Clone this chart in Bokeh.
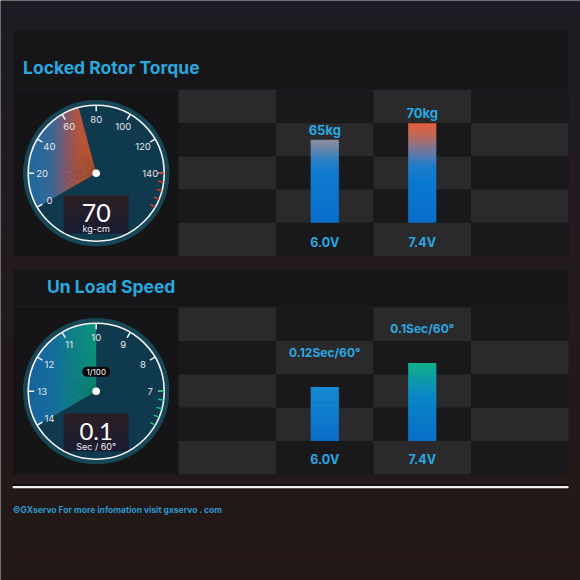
import numpy as np
from bokeh.plotting import figure
from bokeh.models import Range1d
from bokeh.embed import file_html
from bokeh.resources import INLINE
from bokeh.core.properties import value

# ---------------- data ----------------
voltages = ["6.0V", "7.4V"]
torque_kg = [65, 70]
torque_labels = ["65kg", "70kg"]
speed_hundredths = [12, 10]          # sec / 60deg, in 1/100 s
speed_labels = ["0.12Sec/60°", "0.1Sec/60°"]

torque_title = "Locked Rotor Torque"
speed_title = "Un Load Speed"

torque_dial_ticks = [0, 20, 40, 60, 80, 100, 120, 140]
torque_dial_red_ticks = [140, 145, 150, 155, 160]
torque_dial_min_max = [0, 160]
torque_dial_value = 70
torque_readout = "70"
torque_unit = "kg-cm"

speed_dial_ticks = [14, 13, 12, 11, 10, 9, 8, 7]
speed_dial_green_ticks = [7, 6.75, 6.5, 6.25, 6]
speed_dial_min_max = [14, 6]
speed_dial_value = 10
speed_readout = "0.1"
speed_unit = "Sec / 60°"
speed_scale_label = "1/100"

footer = "©GXservo For more infomation visit gxservo . com"

# ---------------- helpers ----------------
def hex2rgb(h):
    h = h.lstrip("#")
    return np.array([int(h[i:i + 2], 16) for i in (0, 2, 4)], float)

def lerp(stops, t):
    t = float(np.clip(t, 0, 1))
    for (p0, c0), (p1, c1) in zip(stops[:-1], stops[1:]):
        if t <= p1:
            f = 0 if p1 == p0 else (t - p0) / (p1 - p0)
            c = hex2rgb(c0) * (1 - f) + hex2rgb(c1) * f
            return "#%02x%02x%02x" % tuple(int(round(v)) for v in c)
    return stops[-1][1]

W = H = 580
p = figure(width=W, height=H, x_range=Range1d(0, W), y_range=Range1d(H, 0),
           x_axis_location=None, y_axis_location=None, toolbar_location=None,
           output_backend="svg", min_border=0)
p.outline_line_color = None
p.xgrid.visible = False
p.ygrid.visible = False
p.background_fill_color = "#201a1f"
p.border_fill_color = "#201a1f"

# ---- page background gradient ----
bg_stops = [(0, "#1d1b23"), (0.45, "#231a1f"), (1, "#231816")]
nb = 58
edges = np.linspace(0, H, nb + 1)
p.quad(left=0, right=W, top=edges[:-1], bottom=edges[1:] + 0.6,
       fill_color=[lerp(bg_stops, (e + H / nb / 2) / H) for e in edges[:-1]],
       line_color=None)

# ---- panels ----
PX0, PX1 = 12.5, 568
HEAD_BG = "#161619"
p.quad(left=PX0, right=PX1, top=[30, 269], bottom=[88.2, 305.9],
       fill_color=HEAD_BG, line_color=None)
p.quad(left=PX0, right=PX1, top=[89.5, 307.3], bottom=[255.5, 473.8],
       fill_color="#151517", line_color=None)

COLS = [178, 275.5, 373, 470.5, 568]
row_sets = [np.linspace(89.5, 255.5, 6), np.linspace(307.3, 473.8, 6)]
L, R_, T, B, C = [], [], [], [], []
for rows in row_sets:
    for ri in range(5):
        for ci in range(4):
            L.append(COLS[ci]); R_.append(COLS[ci + 1])
            T.append(rows[ri]); B.append(rows[ri + 1])
            C.append("#2a2a2d" if (ri + ci) % 2 == 0 else "#19191b")
p.quad(left=L, right=R_, top=T, bottom=B, fill_color=C, line_color=None)

# titles
TITLE_COLOR = "#2aa7de"
p.text(x=[22.5, 46.5], y=[67, 285.5], text=[torque_title, speed_title],
       text_font=value("Inter"), text_font_style="bold", text_font_size="17.5px",
       text_color=TITLE_COLOR, text_baseline="middle", text_align="left")

# ---- bar scales ----
COLW = 97.5
bar_center0 = (COLS[1] + COLS[2]) / 2
p.extra_x_ranges = {"bars": Range1d(start=-bar_center0 / COLW, end=(W - bar_center0) / COLW)}
T_BASE, T_PX, T_BASE_Y = 40, 3.32, 222.3
S_BASE, S_PX, S_BASE_Y = 16.5, 12.0, 440.5
p.extra_y_ranges = {
    "torque": Range1d(start=T_BASE - (H - T_BASE_Y) / T_PX, end=T_BASE + T_BASE_Y / T_PX),
    "speed": Range1d(start=S_BASE + (H - S_BASE_Y) / S_PX, end=S_BASE - S_BASE_Y / S_PX),
}
idx = list(range(len(voltages)))
BW = 28 / COLW

def gradient_bar(i, top, base, stops, yname, n=48):
    bots, tops, cols = [], [], []
    for j in range(n):
        f0, f1 = j / n, min((j + 1) / n + 0.012, 1.0)
        bots.append(base + (top - base) * f0)
        tops.append(base + (top - base) * f1)
        cols.append(lerp(stops, (j + 0.5) / n))
    p.vbar(x=[i] * n, width=BW, bottom=bots, top=tops, fill_color=cols,
           line_color=None, x_range_name="bars", y_range_name=yname)

torque_bar_stops = [
    [(0, "#0a6fcc"), (0.6, "#0e7ace"), (0.75, "#2a80c4"), (0.9, "#6a88aa"), (1, "#8e8e9e")],
    [(0, "#0a6ecb"), (0.4, "#0a78d0"), (0.57, "#1e7cc8"), (0.71, "#6a78a2"), (0.88, "#c06858"), (1, "#e2603a")],
]
speed_bar_stops = [
    [(0, "#0a6ec8"), (1, "#168ad2")],
    [(0, "#0a6ec8"), (0.56, "#0a86c6"), (0.81, "#0e9ca6"), (1, "#10b288")],
]
for i in idx:
    gradient_bar(i, torque_kg[i], T_BASE, torque_bar_stops[i], "torque")
    gradient_bar(i, speed_hundredths[i], S_BASE, speed_bar_stops[i], "speed")

LBL = "#2aa8e2"
p.text(x=idx, y=torque_kg, text=torque_labels, x_range_name="bars", y_range_name="torque",
       text_align="center", text_baseline="middle", y_offset=-10,
       text_font=value("Inter"), text_font_style="bold", text_font_size="13px", text_color=LBL)
p.text(x=idx, y=speed_hundredths, text=speed_labels, x_range_name="bars", y_range_name="speed",
       text_align="center", text_baseline="middle", y_offset=-34.5,
       text_font=value("Inter"), text_font_style="bold", text_font_size="12px", text_color=LBL)
p.text(x=idx + idx, y=[242] * 2 + [458.5] * 2, text=voltages + voltages, x_range_name="bars",
       text_align="center", text_baseline="middle",
       text_font=value("Inter"), text_font_style="bold", text_font_size="12.5px", text_color=LBL)

# ---- gauges ----
RF, RR = 68, 73
FACE, RING = "#0f3a4e", "#174656"

def dial_angle(v, mm):
    lo, hi = mm
    return np.radians(210 - 240 * (v - lo) / (hi - lo))

def gauge(cx, cy, mm, ticks, extra_ticks, extra_color, val, sector_stops,
          readout, unit, readout_size):
    p.circle(x=[cx], y=[cy], radius=RR, fill_color=RING, line_color=None)
    p.circle(x=[cx], y=[cy], radius=RF, fill_color=FACE, line_color=None)
    # sector with horizontal gradient
    a_end = dial_angle(mm[0], mm)
    a_start = dial_angle(val, mm)
    na, nr = 42, 16
    angs = np.linspace(a_start, a_end, na + 1)
    rads = np.linspace(0, RF, nr + 1)
    xs, ys, ir, orr, sa, ea, cols = [], [], [], [], [], [], []
    for k in range(na):
        for m in range(nr):
            am = (angs[k] + angs[k + 1]) / 2
            rm = (rads[m] + rads[m + 1]) / 2
            xc = cx + rm * np.cos(am)
            xs.append(cx); ys.append(cy)
            ir.append(rads[m]); orr.append(min(rads[m + 1] + 0.7, RF))
            sa.append(angs[k])
            ea.append(angs[k + 1] + (0.008 if k < na - 1 else 0))
            cols.append(lerp(sector_stops, (xc - (cx - RF)) / RF))
    p.annular_wedge(x=xs, y=ys, inner_radius=ir, outer_radius=orr, start_angle=sa,
                    end_angle=ea, direction="anticlock", fill_color=cols, line_color=None)
    # readout box
    nbx = 12
    e = np.linspace(cy + 22.3, cy + 59.8, nbx + 1)
    p.quad(left=cx - 32.5, right=cx + 32.5, top=e[:-1], bottom=e[1:] + 0.5,
           fill_color=[lerp([(0, "#2c1f25"), (1, "#1a1b33")], (j + 0.5) / nbx) for j in range(nbx)],
           line_color=None)
    p.annulus(x=[cx], y=[cy], inner_radius=RF, outer_radius=RR, fill_color=RING, line_color=None)
    p.circle(x=[cx], y=[cy], radius=RF, fill_color=None, line_color="#f4f4f4", line_width=1.6)
    # ticks
    a = dial_angle(np.array(ticks, float), mm)
    p.segment(x0=cx + RF * np.cos(a), y0=cy - RF * np.sin(a),
              x1=cx + (RF - 6) * np.cos(a), y1=cy - (RF - 6) * np.sin(a),
              line_color="#f4f4f4", line_width=1.5)
    a2 = dial_angle(np.array(extra_ticks, float), mm)
    p.segment(x0=cx + RF * np.cos(a2), y0=cy - RF * np.sin(a2),
              x1=cx + (RF - 5.5) * np.cos(a2), y1=cy - (RF - 5.5) * np.sin(a2),
              line_color=extra_color, line_width=1.5)
    p.text(x=cx + 54 * np.cos(a), y=cy - 54 * np.sin(a), text=[str(t) for t in ticks],
           text_align="center", text_baseline="middle", text_font=value("Inter"),
           text_font_size="9.5px", text_color="#e6e8ea")
    p.circle(x=[cx], y=[cy], radius=3.8, fill_color="white", line_color=None)
    p.text(x=[cx], y=[cy + 40], text=[readout], text_align="center", text_baseline="middle",
           text_font=value("Lato"), text_font_size=readout_size, text_color="white")
    p.text(x=[cx], y=[cy + 55], text=[unit], text_align="center", text_baseline="middle",
           text_font=value("Inter"), text_font_size="9px", text_color="#f0f0f0")

G1 = (95.7, 172.7)
G2 = (95.7, 390.7)
gauge(G1[0], G1[1], torque_dial_min_max, torque_dial_ticks, torque_dial_red_ticks, "#e0382c",
      torque_dial_value,
      [(0, "#1c6aa0"), (0.35, "#3a6898"), (0.55, "#84596c"), (0.75, "#b8553a"), (1, "#cc5526")],
      torque_readout, torque_unit, "25px")
gauge(G2[0], G2[1], speed_dial_min_max, speed_dial_ticks, speed_dial_green_ticks, "#22c07a",
      speed_dial_value,
      [(0, "#1763a2"), (0.4, "#156f9c"), (0.65, "#108088"), (1, "#0e9276")],
      speed_readout, speed_unit, "24px")

# 1/100 pill
p.quad(left=[G2[0] - 14], right=[G2[0] + 14], top=[G2[1] - 24.5], bottom=[G2[1] - 14.5],
       fill_color="#070707", line_color=None, border_radius=5)
p.text(x=[G2[0]], y=[G2[1] - 19.5], text=[speed_scale_label], text_align="center",
       text_baseline="middle", text_font=value("Inter"), text_font_size="8px", text_color="white")

# ---- footer ----
p.segment(x0=[12.2], y0=[484.6], x1=[568], y1=[484.6], line_color="#050505", line_width=1.2)
p.segment(x0=[12.2], y0=[486.6], x1=[568], y1=[486.6], line_color="#f2f2f2", line_width=2.2)
p.text(x=[12.2], y=[509], text=[footer], text_align="left", text_baseline="middle",
       text_font=value("Inter"), text_font_style="bold", text_font_size="8.5px", text_color="#2a98cc")

open("out.html", "w").write(file_html(p, INLINE))
